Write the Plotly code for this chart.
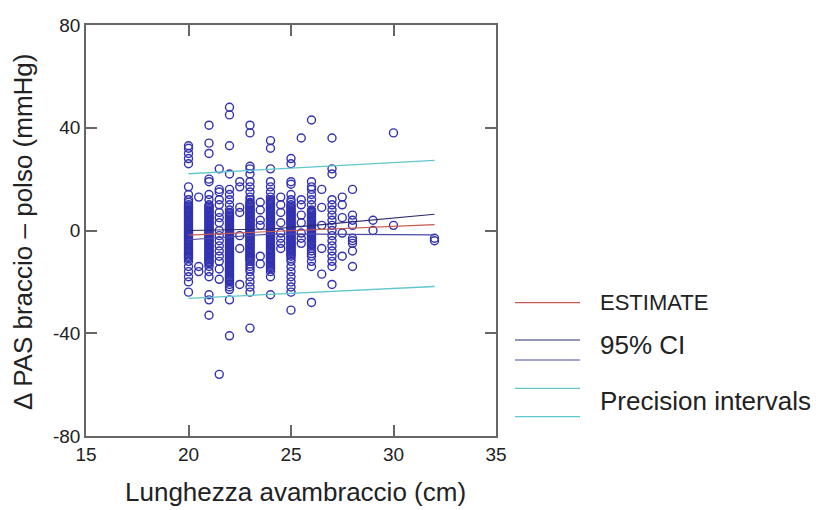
import plotly.graph_objects as go

# ---- data ----
y20 = [33, 32, 30, 28, 26, 17, 14, 12, 11, 10, 9, 8, 7, 6, 5, 4, 3, 2, 1, 0, -1, -2, -3, -4, -5, -6,
       -7, -8, -9, -10, -11, -12, -14, -16, -18, -20, -24]
y20_dense = [9.5, 8.5, 7.5, 6.5, 5.5, 4.5, 3.5, 2.5, 1.5, 0.5, -0.5, -1.5, -2.5, -3.5, -4.5, -5.5,
             -6.5, -7.5, -8.5, -9.5, -10.5]
y20_5 = [13, -14, -16]
y21 = [41, 34, 30, 20, 19, 14, 12, 10, 9, 8, 7, 6, 5, 4, 3, 2, 1, 0, -1, -2, -3, -4, -5, -6, -7, -8,
       -9, -10, -11, -12, -13, -14, -16, -18, -25, -27, -33]
y21_dense = [9.5, 8.5, 7.5, 6.5, 5.5, 4.5, 3.5, 2.5, 1.5, 0.5, -0.5, -1.5, -2.5, -3.5, -4.5, -5.5,
             -6.5, -7.5, -8.5, -9.5, -10.5, -11.5, -12.5]
y21_5 = [24, 16, 15, 12, 10, 7, 5, 3, 0, -2, -4, -6, -8, -10, -12, -15, -19, -56]
y22 = [48, 45, 33, 22, 16, 14, 12, 10, 8, 7, 6, 5, 4, 3, 2, 1, 0, -1, -2, -3, -4, -5, -6, -7, -8, -9,
       -10, -11, -12, -13, -14, -15, -16, -17, -18, -19, -20, -21, -22, -23, -27, -41]
y22_dense = [6.5, 5.5, 4.5, 3.5, 2.5, 1.5, 0.5, -0.5, -1.5, -2.5, -3.5, -4.5, -5.5, -6.5, -7.5,
             -8.5, -9.5, -10.5, -11.5, -12.5, -13.5, -14.5, -15.5, -16.5, -17.5, -18.5, -19.5]
y22_5 = [19, 17, 9, 7, -2, -7, -21]
y23 = [41, 38, 25, 24, 22, 19, 17, 15, 13, 12, 11, 10, 9, 8, 7, 6, 5, 4, 3, 2, 1, 0, -1, -2, -3, -4,
       -5, -6, -7, -8, -9, -10, -11, -12, -13, -14, -15, -16, -18, -20, -22, -24, -38]
y23_dense = [10.5, 9.5, 8.5, 7.5, 6.5, 5.5, 4.5, 3.5, 2.5, 1.5, 0.5, -0.5, -1.5, -2.5, -3.5, -4.5,
             -5.5, -6.5, -7.5, -8.5, -9.5, -10.5, -11.5]
y23_5 = [11, 8, 4, 2, -10, -13]
y24 = [35, 32, 24, 19, 17, 15, 13, 12, 11, 10, 9, 8, 7, 6, 5, 4, 3, 2, 1, 0, -1, -2, -3, -4, -5, -6,
       -7, -8, -9, -10, -11, -12, -13, -14, -15, -16, -18, -25]
y24_dense = [11.5, 10.5, 9.5, 8.5, 7.5, 6.5, 5.5, 4.5, 3.5, 2.5, 1.5, 0.5, -0.5, -1.5, -2.5, -3.5,
             -4.5, -5.5, -6.5, -7.5, -8.5, -9.5, -10.5, -11.5, -12.5, -13.5, -14.5]
y24_5 = [13, 10, 7, 3, -1, -3, -5, -7]
y25 = [28, 26, 19, 18, 14, 12, 11, 10, 9, 8, 7, 6, 5, 4, 3, 2, 1, 0, -1, -2, -3, -4, -5, -6, -7, -8,
       -9, -10, -11, -12, -14, -16, -18, -20, -22, -24, -31]
y25_dense = [9.5, 8.5, 7.5, 6.5, 5.5, 4.5, 3.5, 2.5, 1.5, 0.5, -0.5, -1.5, -2.5, -3.5, -4.5, -5.5,
             -6.5, -7.5, -8.5, -9.5]
y25_5 = [36, 12, 10, 6, 3, -1, -3, -5]
y26 = [43, 19, 17, 16, 14, 12, 10, 8, 7, 6, 5, 4, 3, 2, 1, 0, -1, -2, -3, -4, -5, -6, -7, -8, -9,
       -10, -12, -14, -28]
y26_dense = [7.5, 6.5, 5.5, 4.5, 3.5, 2.5, 1.5, 0.5, -0.5, -1.5, -2.5, -3.5, -4.5, -5.5]
y26_5 = [16, 9, 2, -7, -17]
y27 = [36, 24, 22, 12, 10, 8, 6, 4, 2, 0, -2, -4, -6, -8, -10, -12, -14, -21]
y27_5 = [13, 10, 5, -1, -10]
y28 = [16, 6, 4, 2, -3, -4, -5, -8, -14]
y29 = [4, 0]
y30 = [38, 2]
y32 = [-3, -4]

column_x = [20, 20, 20.5, 21, 21, 21.5, 22, 22, 22.5, 23, 23, 23.5, 24, 24, 24.5, 25, 25, 25.5,
            26, 26, 26.5, 27, 27.5, 28, 29, 30, 32]
column_y = [y20, y20_dense, y20_5, y21, y21_dense, y21_5, y22, y22_dense, y22_5, y23, y23_dense,
            y23_5, y24, y24_dense, y24_5, y25, y25_dense, y25_5, y26, y26_dense, y26_5,
            y27, y27_5, y28, y29, y30, y32]

fit_x = [20, 22, 24, 26, 28, 30, 32]
estimate = [-1.8, -1.12, -0.43, 0.25, 0.94, 1.62, 2.3]
ci_upper = [0.0, 0.2, 0.6, 1.9, 3.3, 4.8, 6.3]
ci_lower = [-3.6, -2.4, -1.4, -1.4, -1.5, -1.6, -1.7]
pi_x = [20, 32]
pi_upper = [22.1, 27.3]
pi_lower = [-26.4, -21.8]

legend_labels = ["ESTIMATE", "95% CI", "Precision intervals"]

x_ticks = [15, 20, 25, 30, 35]
y_ticks = [-80, -40, 0, 40, 80]

# ---- build ----
pts_x, pts_y = [], []
for cx, ys in zip(column_x, column_y):
    for v in ys:
        pts_x.append(cx)
        pts_y.append(v)

FONT = "Liberation Sans, Arial, sans-serif"
TXT = "#222222"
RED = "#c8584c"
NAVY_U = "#2a2a6e"
NAVY_L = "#4a4aa6"
CYAN = "#5ec8cc"

fig = go.Figure()
fig.add_trace(go.Scatter(
    x=pts_x, y=pts_y, mode="markers",
    marker=dict(symbol="circle-open", size=8, color="#3232b0", line=dict(width=1.4)),
    showlegend=False, hoverinfo="skip"))
fig.add_trace(go.Scatter(x=pi_x, y=pi_upper, mode="lines", line=dict(color=CYAN, width=1.3), showlegend=False))
fig.add_trace(go.Scatter(x=pi_x, y=pi_lower, mode="lines", line=dict(color=CYAN, width=1.3), showlegend=False))
fig.add_trace(go.Scatter(x=fit_x, y=ci_upper, mode="lines", line=dict(color=NAVY_U, width=1.1), showlegend=False))
fig.add_trace(go.Scatter(x=fit_x, y=ci_lower, mode="lines", line=dict(color=NAVY_L, width=1.1), showlegend=False))
fig.add_trace(go.Scatter(x=fit_x, y=estimate, mode="lines", line=dict(color=RED, width=1.1), showlegend=False))

axis_common = dict(
    showline=True, linecolor="#666666", linewidth=1.5, mirror="ticks",
    ticks="inside", ticklen=11, tickcolor="#666666", tickwidth=1.5,
    showgrid=False, zeroline=False,
    tickfont=dict(family=FONT, size=19, color=TXT),
)
fig.update_xaxes(range=[15, 35], tickvals=x_ticks, ticktext=[str(t) for t in x_ticks], **axis_common)
fig.update_yaxes(range=[-80, 80], tickvals=y_ticks, ticktext=[str(t) for t in y_ticks], **axis_common)

# legend drawn manually (paper coords)
def py(p):
    return (436 - p) / 411.0

def px(p):
    return (p - 86) / 410.0

legend_lines = [(302.7, RED), (340, NAVY_U), (360, NAVY_L), (388.3, CYAN), (416.7, CYAN)]
for yy, col in legend_lines:
    fig.add_shape(type="line", xref="paper", yref="paper",
                  x0=px(515), x1=px(580), y0=py(yy), y1=py(yy),
                  line=dict(color=col, width=1.2))

legend_text_y = [302, 345, 401]
legend_sizes = [22, 26, 26]
for lab, yy, sz in zip(legend_labels, legend_text_y, legend_sizes):
    fig.add_annotation(text=lab, xref="paper", yref="paper", x=px(598), y=py(yy),
                       xanchor="left", yanchor="middle", showarrow=False,
                       font=dict(family=FONT, size=sz, color=TXT))

fig.add_annotation(text="Lunghezza avambraccio (cm)", xref="paper", yref="paper",
                   x=px(295), y=py(492), xanchor="center", yanchor="middle", showarrow=False,
                   font=dict(family=FONT, size=26, color=TXT))
fig.add_annotation(text="Δ PAS braccio – polso (mmHg)", xref="paper", yref="paper",
                   x=px(23), y=py(232), xanchor="center", yanchor="middle", showarrow=False,
                   textangle=-90, font=dict(family=FONT, size=26, color=TXT))

fig.update_layout(
    width=816, height=510,
    margin=dict(l=86, r=320, t=25, b=74),
    paper_bgcolor="white", plot_bgcolor="white",
    showlegend=False,
)

fig.write_html("out.html")
